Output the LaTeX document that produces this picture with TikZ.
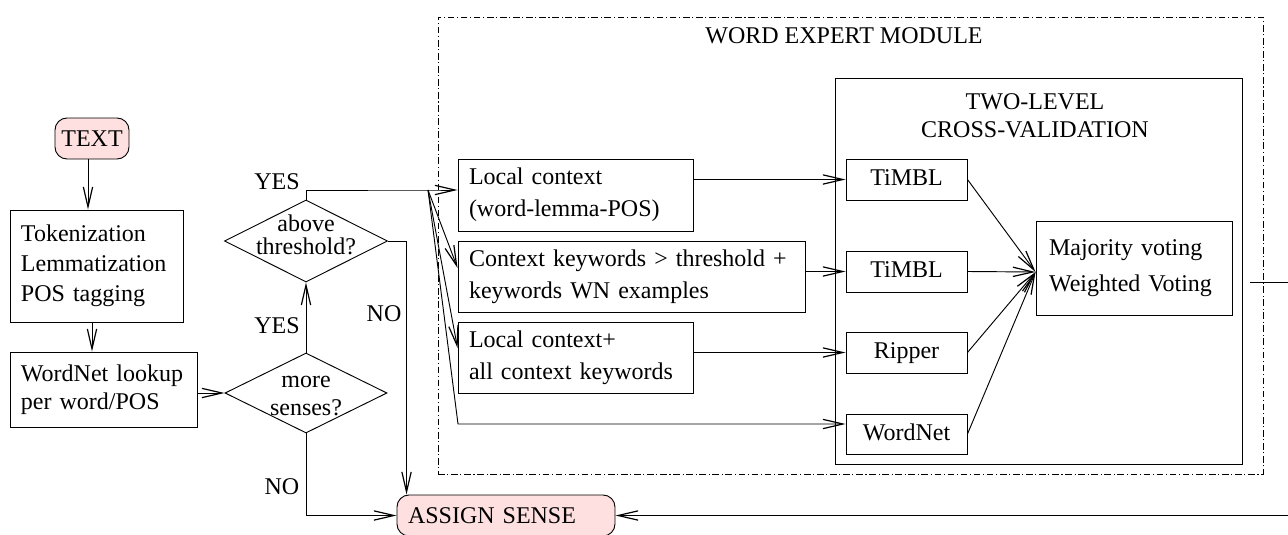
\documentclass[tikz,border=0pt]{standalone}
\usepackage{fontspec}
\setmainfont{Liberation Serif}
\usetikzlibrary{arrows.meta,shapes.geometric,calc}
\definecolor{pinkfill}{RGB}{255,224,224}
\begin{document}
\begin{tikzpicture}[x=0.75pt,y=-0.75pt,
  line width=0.7pt,
  every node/.style={font=\fontsize{18}{22.5}\selectfont},
  arr/.style={-{Straight Barb[length=15pt,width=7pt,line width=0.9pt]}},
  box/.style={draw, rectangle, inner sep=0pt, inner xsep=8.25pt, align=left},
  cbox/.style={draw, rectangle, inner sep=0pt, minimum width=90.75pt, minimum height=30.75pt, text height=12pt, text depth=3pt},
  term/.style={draw, rectangle, rounded corners=9pt, fill=pinkfill, inner sep=0pt},
  dec/.style={draw, diamond, inner sep=0pt},
  lbl/.style={inner sep=0pt},
  frame/.style={draw, inner sep=0pt, dash pattern=on 5pt off 2pt on 0.8pt off 2pt}]
\useasboundingbox (0,0) rectangle (1288,535);

% outer frame
\node[frame, minimum width=618.75pt, minimum height=342.75pt] (wem) at (850.5,245.5) {};
\node[lbl] (wemt) at (844,35.5) {WORD EXPERT MODULE};

% left column
\node[term, minimum width=55.5pt, minimum height=30.75pt] (txt) at (92,138.5) {TEXT};
\node[box, text width=113.25pt, minimum height=84pt] (tok) at (96.5,266) {Tokenization\\Lemmatization\\POS tagging};
\node[box, text width=123.75pt, minimum height=56.25pt, font=\fontsize{18}{21}\selectfont] (wn) at (103.5,389.5) {WordNet lookup\\per word/POS};

% decisions
\node[dec, minimum width=122.25pt, minimum height=61.5pt,
  label={[lbl,align=center,font=\fontsize{18}{17.25}\selectfont,yshift=4.3pt]center:above\\threshold?}] (thr) at (306,241) {};
\node[dec, minimum width=121.5pt, minimum height=60pt,
  label={[lbl,align=center,font=\fontsize{18}{21}\selectfont,yshift=-2pt]center:more\\senses?}] (more) at (306,393) {};

\node[term, text width=147pt, inner xsep=8.25pt, align=left, minimum height=30.75pt] (as) at (506,515.5) {ASSIGN SENSE};

% feature boxes
\node[box, text width=159.75pt, minimum height=54pt, font=\fontsize{18}{24}\selectfont] (lc) at (575.5,195) {Local context\\(word-lemma-POS)};
\node[box, text width=243.75pt, minimum height=53.25pt, font=\fontsize{18}{24}\selectfont] (ck) at (631.5,276.5) {Context keywords > threshold +\\keywords WN examples};
\node[box, text width=159.75pt, minimum height=53.25pt, font=\fontsize{18}{24}\selectfont] (lca) at (575.5,357.5) {Local context+\\all context keywords};

% two-level box
\node[draw, inner sep=0pt, minimum width=305.25pt, minimum height=289.5pt] (tl) at (1038.5,271) {};
\node[lbl, align=center, font=\fontsize{18}{21}\selectfont] (tlt) at (1035,116) {TWO-LEVEL\\CROSS-VALIDATION};
\node[cbox] (t1) at (906.5,179.5) {TiMBL};
\node[cbox] (t2) at (906.5,271.5) {TiMBL};
\node[cbox] (rip) at (906.5,352.5) {Ripper};
\node[cbox, minimum height=30pt] (wnt) at (906.5,434) {WordNet};
\node[box, inner xsep=9.75pt, text width=127.5pt, minimum height=70.5pt, font=\fontsize{18}{27}\selectfont] (maj) at (1134,268) {Majority voting\\Weighted Voting};

% labels
\node[lbl] (yes1) at (277,182) {YES};
\node[lbl] (yes2) at (277,326) {YES};
\node[lbl] (no1) at (384,314) {NO};
\node[lbl] (no2) at (282,487) {NO};

% connectors left
\draw[arr] ([xshift=-3pt]txt.south) -- ([xshift=-3pt]txt.south |- tok.north);
\draw[arr] (txt.south |- tok.south) -- (txt.south |- wn.north);
\draw[arr] (wn.east |- more.west) -- (more.west);
\draw[arr] (more.north) -- (thr.south);
\draw[arr] (thr.east) -| ([xshift=7.5pt]as.north west);
\draw[arr] (more.south) |- (as.west);

% fan out
\coordinate (F) at (428,190);
\coordinate (c4) at (458,424);
\draw[arr] (thr.north) |- (F) -- (F -| lc.west);
\draw[arr] (F) -- ([yshift=6.4pt]ck.west);
\draw[arr] (F) -- ([yshift=7.1pt]lca.west);
\draw[arr] (F) -- (c4) -- (c4 -| wnt.west);

% to classifiers
\draw[arr] (t1.west -| lc.east) -- (t1.west);
\draw[arr] (t2.west -| ck.east) -- (t2.west);
\draw[arr] (rip.west -| lca.east) -- (rip.west);

% to voting
\coordinate (mj) at ([yshift=-3pt]maj.west);
\draw[arr] (t1.east) -- (mj);
\draw[arr] (t2.east) -- (mj);
\draw[arr] (rip.east) -- (mj);
\draw[arr] (wnt.east) -- (mj);

% output
\coordinate (o1) at (1250,282);
\coordinate (o2) at (1288,282);
\draw (o1) -- (o2);
\coordinate (o3) at (1288,515.5);
\draw[arr] (o3) -- (o3 -| as.east);
\end{tikzpicture}
\end{document}
